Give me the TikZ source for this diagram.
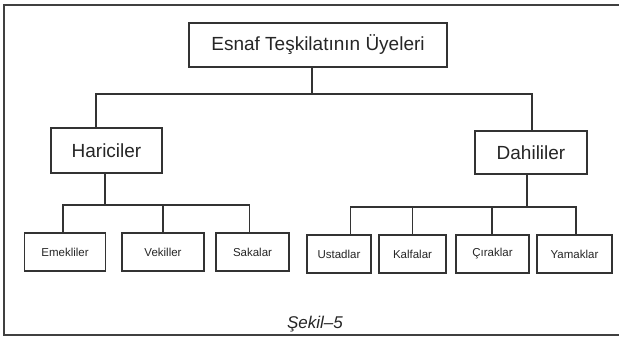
\documentclass[tikz,border=0pt]{standalone}
\usepackage{fontspec}
\setmainfont{Liberation Sans}
\begin{document}
\begin{tikzpicture}[x=1pt,y=-1pt,
  ink/.style={draw=black!80,line width=1.6pt},
  box/.style={ink,fill=white,inner sep=0pt,align=center,text=black!85},
  topbox/.style={box,font=\fontsize{19}{21}\selectfont},
  midbox/.style={box,font=\fontsize{19}{21}\selectfont},
  leafbox/.style={box,font=\fontsize{11.5}{13}\selectfont,minimum height=38pt},
  link/.style={ink}]
\useasboundingbox[fill=white] (0,0) rectangle (619,338);
\draw[draw=black!75,line width=2pt] (619,5) -- (4,5) -- (4,335) -- (619,335);

\node[topbox,minimum width=258pt,minimum height=44pt] (top) at (318,45) {Esnaf Teşkilatının Üyeleri};
\node[midbox,minimum width=111pt,minimum height=45pt] (har) at (106.5,150.5) {Hariciler};
\node[midbox,minimum width=112pt,minimum height=43pt] (dah) at (531,152.5) {Dahililer};

\node[leafbox,minimum width=81pt] (l1) at (65,252) {Emekliler};
\node[leafbox,minimum width=82pt] (l2) at (163,252) {Vekiller};
\node[leafbox,minimum width=73pt] (l3) at (252.5,252) {Sakalar};
\node[leafbox,minimum width=64pt] (r1) at (339,254) {Ustadlar};
\node[leafbox,minimum width=67pt] (r2) at (412.5,254) {Kalfalar};
\node[leafbox,minimum width=73pt] (r3) at (492.5,254) {Çıraklar};
\node[leafbox,minimum width=75pt] (r4) at (574.5,254) {Yamaklar};

\node[font=\itshape\fontsize{17}{19}\selectfont,text=black!85] (cap) at (315,324) {Şekil–5};

% top level
\coordinate (j0) at (312,94);
\coordinate (hL) at (96,94);
\coordinate (hR) at (532,94);
\draw[link] (j0 |- top.south) -- (j0);
\draw[link] (hL |- har.north) -- (hL) -- (hR) -- (hR |- dah.north);

% left group
\coordinate (jl) at (105,205);
\coordinate (a1) at (63,205);
\coordinate (a2) at (163,205);
\coordinate (a3) at (249.5,205);
\draw[link] (jl |- har.south) -- (jl);
\draw[link] (a1 |- l1.north) -- (a1) -- (a3) -- (a3 |- l3.north);
\draw[link] (a2) -- (a2 |- l2.north);

% right group
\coordinate (jr) at (527,207);
\coordinate (b1) at (350.5,207);
\coordinate (b2) at (412.5,207);
\coordinate (b3) at (492,207);
\coordinate (b4) at (576,207);
\draw[link] (jr |- dah.south) -- (jr);
\draw[link] (b1 |- r1.north) -- (b1) -- (b4) -- (b4 |- r4.north);
\draw[link] (b2) -- (b2 |- r2.north);
\draw[link] (b3) -- (b3 |- r3.north);
\end{tikzpicture}
\end{document}
